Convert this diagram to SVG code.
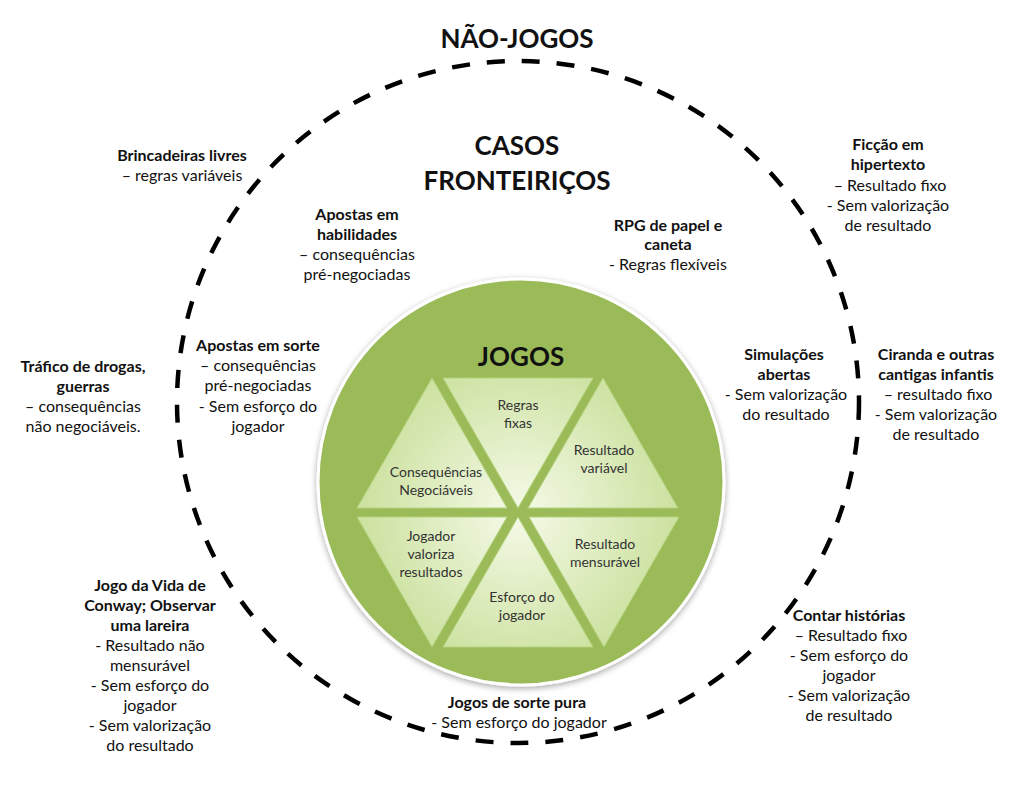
<svg xmlns="http://www.w3.org/2000/svg" width="1024" height="794" viewBox="0 0 1024 794">
<defs>
<radialGradient id="triGrad" gradientUnits="userSpaceOnUse" cx="518" cy="512" r="175">
<stop offset="0" stop-color="#f5fae8"/>
<stop offset="1" stop-color="#c8df98"/>
</radialGradient>
<filter id="shadow" x="-10%" y="-10%" width="120%" height="120%">
<feGaussianBlur in="SourceAlpha" stdDeviation="3"/>
<feOffset dx="0" dy="2" result="b"/>
<feComponentTransfer><feFuncA type="linear" slope="0.35"/></feComponentTransfer>
<feMerge><feMergeNode/><feMergeNode in="SourceGraphic"/></feMerge>
</filter>
</defs>
<style>
text{font-family:Lato,"Liberation Sans",sans-serif;fill:#111;text-anchor:middle}
.t{font-size:16px}
.b{font-weight:bold}
.title{font-size:26px;font-weight:bold}
.tri{fill:url(#triGrad);stroke:#b5d27e;stroke-width:1}
.tt{font-size:14px;fill:#333}
</style>
<rect width="1024" height="794" fill="#ffffff"/>
<g id="connectors">
<circle id="boundary" cx="518" cy="402" r="341" fill="none" stroke="#000" stroke-width="4.5" stroke-dasharray="18 17"/>
</g>
<g id="jogos">
<circle cx="521" cy="482" r="203" fill="#9bbb59" stroke="#ffffff" stroke-width="3" filter="url(#shadow)"/>
<text class="title" x="521" y="366">JOGOS</text>
<polygon class="tri" points="432,378 507,508 357,508"/>
<polygon class="tri" points="443,378 593,378 518,508"/>
<polygon class="tri" points="603,378 678,508 528,508"/>
<polygon class="tri" points="357,517 507,517 432,647"/>
<polygon class="tri" points="518,517 593,647 443,647"/>
<polygon class="tri" points="529,517 679,517 604,647"/>
<text class="tt" x="518" y="410">Regras</text>
<text class="tt" x="518" y="428">fixas</text>
<text class="tt" x="604" y="455">Resultado</text>
<text class="tt" x="604" y="473">variável</text>
<text class="tt" x="436" y="477">Consequências</text>
<text class="tt" x="436" y="495">Negociáveis</text>
<text class="tt" x="431" y="541">Jogador</text>
<text class="tt" x="431" y="559">valoriza</text>
<text class="tt" x="431" y="577">resultados</text>
<text class="tt" x="605" y="549">Resultado</text>
<text class="tt" x="605" y="567">mensurável</text>
<text class="tt" x="522" y="602">Esforço do</text>
<text class="tt" x="522" y="620">jogador</text>
</g>
<g id="nao-jogos-title"><text class="title" x="517" y="48">NÃO-JOGOS</text></g>
<g id="casos-title">
<text class="title" x="517" y="155">CASOS</text>
<text class="title" x="517" y="190">FRONTEIRIÇOS</text>
</g>
<g id="brincadeiras">
<text class="t b" x="182" y="161">Brincadeiras livres</text>
<text class="t" x="182" y="181">– regras variáveis</text>
</g>
<g id="apostas-habilidades">
<text class="t b" x="357" y="220">Apostas em</text>
<text class="t b" x="357" y="240">habilidades</text>
<text class="t" x="357" y="260">– consequências</text>
<text class="t" x="357" y="280">pré-negociadas</text>
</g>
<g id="rpg">
<text class="t b" x="668" y="231">RPG de papel e</text>
<text class="t b" x="668" y="250">caneta</text>
<text class="t" x="668" y="270">- Regras flexíveis</text>
</g>
<g id="ficcao">
<text class="t b" x="888" y="150">Ficção em</text>
<text class="t b" x="888" y="170">hipertexto</text>
<text class="t" x="890" y="191">– Resultado fixo</text>
<text class="t" x="888" y="211">- Sem valorização</text>
<text class="t" x="888" y="231">de resultado</text>
</g>
<g id="trafico">
<text class="t b" x="83" y="372">Tráfico de drogas,</text>
<text class="t b" x="83" y="392">guerras</text>
<text class="t" x="83" y="412">– consequências</text>
<text class="t" x="83" y="432">não negociáveis.</text>
</g>
<g id="apostas-sorte">
<text class="t b" x="258" y="351">Apostas em sorte</text>
<text class="t" x="258" y="371">– consequências</text>
<text class="t" x="258" y="391">pré-negociadas</text>
<text class="t" x="258" y="412">- Sem esforço do</text>
<text class="t" x="258" y="432">jogador</text>
</g>
<g id="simulacoes">
<text class="t b" x="784" y="360">Simulações</text>
<text class="t b" x="784" y="380">abertas</text>
<text class="t" x="786" y="400">- Sem valorização</text>
<text class="t" x="786" y="420">do resultado</text>
</g>
<g id="ciranda">
<text class="t b" x="936" y="360">Ciranda e outras</text>
<text class="t b" x="936" y="380">cantigas infantis</text>
<text class="t" x="938" y="400">– resultado fixo</text>
<text class="t" x="936" y="420">- Sem valorização</text>
<text class="t" x="936" y="440">de resultado</text>
</g>
<g id="jogo-da-vida">
<text class="t b" x="150" y="591">Jogo da Vida de</text>
<text class="t b" x="150" y="611">Conway; Observar</text>
<text class="t b" x="150" y="631">uma lareira</text>
<text class="t" x="150" y="651">- Resultado não</text>
<text class="t" x="150" y="671">mensurável</text>
<text class="t" x="150" y="691">- Sem esforço do</text>
<text class="t" x="150" y="711">jogador</text>
<text class="t" x="150" y="731">- Sem valorização</text>
<text class="t" x="150" y="751">do resultado</text>
</g>
<g id="sorte-pura">
<text class="t b" x="517" y="708">Jogos de sorte pura</text>
<text class="t" x="519" y="728">- Sem esforço do jogador</text>
</g>
<g id="contar-historias">
<text class="t b" x="849" y="621">Contar histórias</text>
<text class="t" x="851" y="641">– Resultado fixo</text>
<text class="t" x="849" y="661">- Sem esforço do</text>
<text class="t" x="849" y="681">jogador</text>
<text class="t" x="849" y="701">- Sem valorização</text>
<text class="t" x="849" y="721">de resultado</text>
</g>
</svg>
